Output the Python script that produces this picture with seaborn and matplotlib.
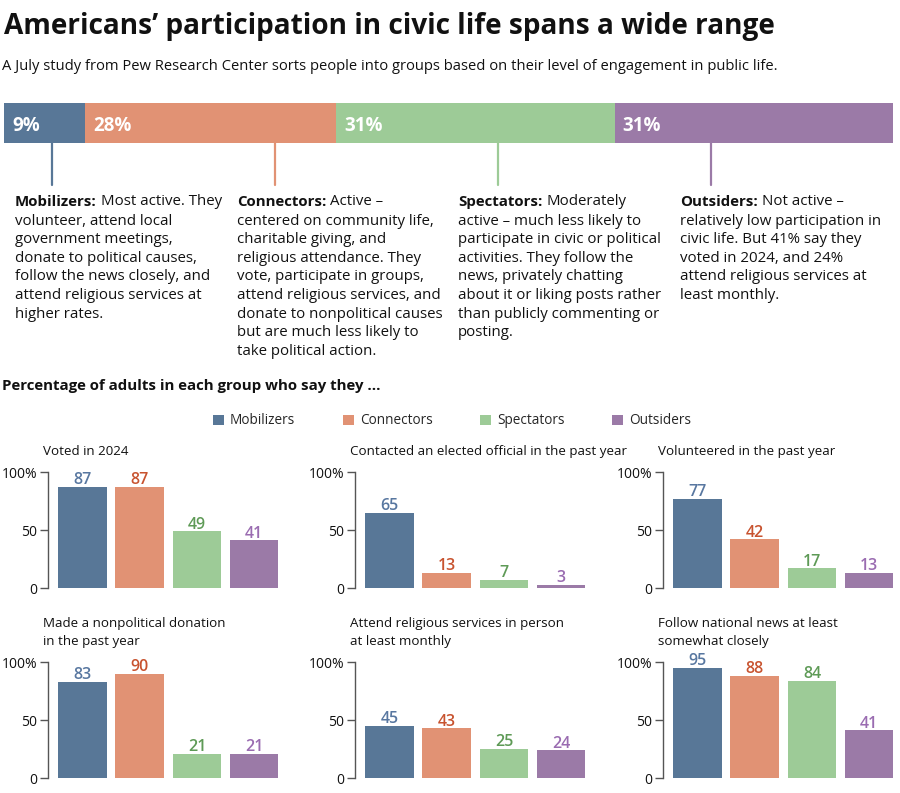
import numpy as np
import pandas as pd
import seaborn as sns
import matplotlib.pyplot as plt
from matplotlib.lines import Line2D
from matplotlib.patches import Patch
from matplotlib.text import Annotation

sns.set_theme(style='white')
plt.rcParams['font.family'] = ['Open Sans', 'DejaVu Sans']

# data
groups = ['Mobilizers', 'Connectors', 'Spectators', 'Outsiders']
shares = [9, 28, 31, 31]
bar_colors = ['#587797', '#e19274', '#9dcb97', '#9b7aa7']
label_colors = ['#5877a0', '#c8532f', '#5e9a56', '#9a6cb1']

descriptions = {
    'Mobilizers': ['Most active. They', 'volunteer, attend local', 'government meetings,',
                   'donate to political causes,', 'follow the news closely, and',
                   'attend religious services at', 'higher rates.'],
    'Connectors': ['Active \u2013', 'centered on community life,', 'charitable giving, and',
                   'religious attendance. They', 'vote, participate in groups,',
                   'attend religious services, and', 'donate to nonpolitical causes',
                   'but are much less likely to', 'take political action.'],
    'Spectators': ['Moderately', 'active \u2013 much less likely to', 'participate in civic or political',
                   'activities. They follow the', 'news, privately chatting',
                   'about it or liking posts rather', 'than publicly commenting or', 'posting.'],
    'Outsiders': ['Not active \u2013', 'relatively low participation in', 'civic life. But 41% say they',
                  'voted in 2024, and 24%', 'attend religious services at', 'least monthly.'],
}

panel_titles = ['Voted in 2024', 'Contacted an elected official in the past year',
                'Volunteered in the past year', 'Made a nonpolitical donation\nin the past year',
                'Attend religious services in person\nat least monthly',
                'Follow national news at least\nsomewhat closely']
voted = [87, 87, 49, 41]
contacted = [65, 13, 7, 3]
volunteered = [77, 42, 17, 13]
donated = [83, 90, 21, 21]
religious = [45, 43, 25, 24]
news = [95, 88, 84, 41]
panel_values = [voted, contacted, volunteered, donated, religious, news]

W, H = 900, 793
fig = plt.figure(figsize=(W / 100, H / 100), dpi=100)


def fx(x):
    return x / W


def fy(y):
    return 1 - y / H


# title / subtitle
fig.text(fx(4), fy(34), 'Americans\u2019 participation in civic life spans a wide range',
         fontsize=20.2, fontweight='bold', color='#111111', va='baseline')
fig.text(fx(2), fy(70), 'A July study from Pew Research Center sorts people into groups based on '
         'their level of engagement in public life.', fontsize=10.6, color='#111111', va='baseline')

# stacked share bar
axb = fig.add_axes([fx(4), fy(143), (893 - 4) / W, 40 / H])
lefts = np.concatenate([[0], np.cumsum(shares)[:-1]])
axb.barh([0] * 4, shares, left=lefts, color=bar_colors, height=1, linewidth=0)
for l, s in zip(lefts, shares):
    axb.annotate(f'{s}%', xy=(l, 0), xytext=(8, -3), textcoords='offset pixels',
                 color='white', fontsize=13.5, fontweight='bold', va='center', ha='left')
axb.set_xlim(0, sum(shares))
axb.set_ylim(-0.5, 0.5)
axb.axis('off')

# pointer lines and descriptions
line_x = [52, 275, 498, 711]
text_x = [15, 237, 458, 680]
for g, c, lx, tx in zip(groups, bar_colors, line_x, text_x):
    fig.add_artist(Line2D([fx(lx), fx(lx)], [fy(143), fy(185)], color=c, lw=1.6))
    lines = descriptions[g]
    head = fig.text(fx(tx), fy(206), g + ':', fontsize=10.8, fontweight='bold',
                    color='#111111', va='baseline')
    fig.add_artist(Annotation(
        lines[0], xy=(1, 0), xycoords=head, xytext=(4, 0), textcoords='offset pixels',
        fontsize=10.8, color='#111111', va='bottom', ha='left', annotation_clip=False))
    for i, t in enumerate(lines[1:], start=1):
        fig.text(fx(tx), fy(206 + i * 18.6), t, fontsize=10.8, color='#111111', va='baseline')

fig.text(fx(2), fy(390), 'Percentage of adults in each group who say they ...',
         fontsize=10.8, fontweight='bold', color='#111111', va='baseline')

# legend
handles = [Patch(facecolor=c, edgecolor='none') for c in bar_colors]
fig.legend(handles, groups, loc='center', bbox_to_anchor=(fx(452), fy(421)), ncol=4,
           frameon=False, fontsize=9.8, handlelength=0.8, handleheight=0.8,
           handletextpad=0.45, columnspacing=3.5)

# small multiples
col_left = [48, 355, 663]
row_top = [472, 662]
title_base = [[455], [627, 645]]
for k, (title, vals) in enumerate(zip(panel_titles, panel_values)):
    r, c = divmod(k, 3)
    L, T = col_left[c], row_top[r]
    ax = fig.add_axes([fx(L), fy(T + 116), 232 / W, 116 / H])
    df = pd.DataFrame({'group': groups, 'value': vals})
    sns.barplot(data=df, x='group', y='value', hue='group', palette=bar_colors,
                width=0.845, saturation=1, linewidth=0, legend=False, ax=ax)
    for cont, lc in zip(ax.containers, label_colors):
        ax.bar_label(cont, color=lc, fontsize=11.5, fontweight='semibold', padding=-1)
    ax.set_ylim(0, 100)
    ax.set_xlim(-0.6, 3.45)
    ax.set_yticks([0, 50, 100])
    ax.set_yticklabels(['0', '50', '100%'])
    ax.set_xlabel('')
    ax.set_ylabel('')
    for s in ['top', 'right', 'bottom']:
        ax.spines[s].set_visible(False)
    ax.spines['left'].set_color('#555555')
    ax.spines['left'].set_linewidth(1)
    ax.tick_params(axis='x', length=0, labelbottom=False)
    ax.tick_params(axis='y', left=True, length=5.8, width=1, color='#555555', pad=2,
                   labelsize=10, labelcolor='#111111')
    for i, t in enumerate(title.split('\n')):
        fig.text(fx(L - 5), fy(title_base[r][i]), t, fontsize=9.6, color='#111111',
                 va='baseline')

fig.savefig('out.png', dpi=100)
